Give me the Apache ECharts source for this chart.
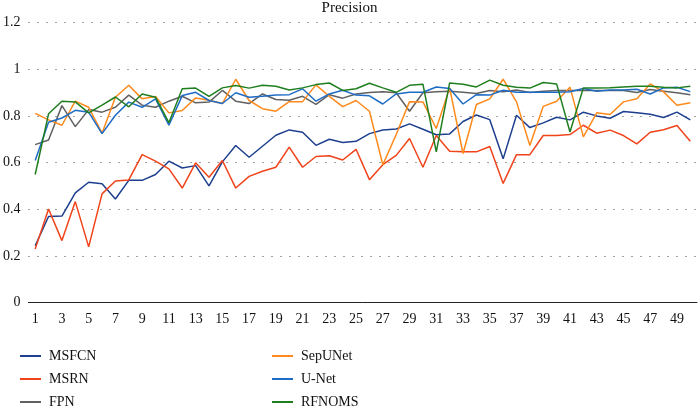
<!DOCTYPE html>
<html><head><meta charset="utf-8">
<script src="https://cdn.jsdelivr.net/npm/echarts@6/dist/echarts.min.js"></script>
<style>html,body{margin:0;padding:0;background:#fff}#c{width:699px;height:406px}</style>
</head><body><div id="c"></div>
<script>
const categories = Array.from({length: 50}, (_, i) => String(i + 1));
const yTicks = [0, 0.2, 0.4, 0.6, 0.8, 1, 1.2];
const MSFCN = [0.244,0.369,0.371,0.47,0.516,0.509,0.444,0.524,0.524,0.549,
  0.606,0.577,0.587,0.50,0.603,0.673,0.623,0.67,0.717,0.74,
  0.73,0.674,0.70,0.686,0.691,0.724,0.74,0.744,0.766,0.743,
  0.719,0.723,0.776,0.804,0.784,0.616,0.803,0.75,0.77,0.794,
  0.783,0.816,0.80,0.79,0.819,0.813,0.807,0.793,0.816,0.783];
const MSRN = [0.23,0.401,0.266,0.433,0.239,0.466,0.521,0.526,0.634,0.606,
  0.573,0.491,0.599,0.537,0.609,0.491,0.541,0.563,0.58,0.666,
  0.58,0.626,0.629,0.611,0.657,0.527,0.591,0.631,0.703,0.58,
  0.716,0.649,0.646,0.646,0.669,0.511,0.634,0.634,0.716,0.716,
  0.72,0.76,0.726,0.739,0.716,0.68,0.73,0.741,0.759,0.691];
const FPN = [0.677,0.697,0.844,0.754,0.827,0.816,0.837,0.889,0.846,0.837,
  0.863,0.884,0.856,0.859,0.909,0.863,0.853,0.894,0.87,0.867,
  0.884,0.849,0.891,0.876,0.894,0.9,0.903,0.899,0.82,0.899,
  0.903,0.906,0.901,0.896,0.909,0.903,0.911,0.9,0.906,0.909,
  0.909,0.909,0.909,0.909,0.909,0.9,0.913,0.906,0.899,0.891];
const SepUNet = [0.811,0.783,0.76,0.863,0.837,0.726,0.88,0.931,0.873,0.883,
  0.813,0.823,0.877,0.867,0.853,0.957,0.866,0.831,0.82,0.861,
  0.861,0.933,0.884,0.84,0.866,0.82,0.591,0.72,0.861,0.86,
  0.746,0.92,0.639,0.849,0.873,0.957,0.86,0.673,0.841,0.863,
  0.923,0.71,0.813,0.806,0.86,0.873,0.937,0.903,0.846,0.856];
const UNet = [0.609,0.773,0.791,0.824,0.816,0.724,0.803,0.859,0.837,0.873,
  0.76,0.887,0.901,0.866,0.853,0.899,0.88,0.884,0.889,0.891,
  0.916,0.863,0.894,0.91,0.889,0.886,0.851,0.894,0.901,0.901,
  0.924,0.917,0.851,0.891,0.889,0.91,0.901,0.901,0.901,0.901,
  0.903,0.917,0.906,0.911,0.911,0.914,0.894,0.92,0.923,0.904];
const RFNOMS = [0.549,0.809,0.863,0.86,0.813,0.846,0.881,0.839,0.894,0.88,
  0.771,0.916,0.919,0.884,0.92,0.93,0.919,0.931,0.927,0.911,
  0.92,0.934,0.941,0.909,0.916,0.94,0.92,0.901,0.931,0.936,
  0.646,0.941,0.936,0.924,0.953,0.931,0.923,0.919,0.943,0.937,
  0.731,0.92,0.92,0.921,0.924,0.927,0.927,0.923,0.92,0.927];

const seriesDefs = [
  ['MSFCN', MSFCN, '#1d3f8e'],
  ['MSRN', MSRN, '#f0431a'],
  ['FPN', FPN, '#616161'],
  ['SepUNet', SepUNet, '#ff8a1c'],
  ['U-Net', UNet, '#1f6cc4'],
  ['RFNOMS', RFNOMS, '#1f7f1f']
];
const font = '"Liberation Serif", "DejaVu Serif", serif';
const chart = echarts.init(document.getElementById('c'));
const legendCommon = {
  orient: 'vertical', icon: 'rect', itemWidth: 21, itemHeight: 2, itemGap: 7,
  height: 100, padding: 0,
  textStyle: {fontFamily: font, fontSize: 14, lineHeight: 16, color: '#111', padding: [0,0,0,3]}
};
chart.setOption({
  animation: false,
  title: {text: 'Precision', left: 'center', top: -4,
    textStyle: {fontFamily: font, fontSize: 15, fontWeight: 'normal', color: '#111'}},
  grid: {left: 27, right: 2, top: 22.5, bottom: 103.3, containLabel: false},
  legend: [
    Object.assign({}, legendCommon, {data: ['MSFCN','MSRN','FPN'], left: 20, top: 348}),
    Object.assign({}, legendCommon, {data: ['SepUNet','U-Net','RFNOMS'], left: 272, top: 348})
  ],
  xAxis: {
    type: 'category', data: categories, boundaryGap: true,
    axisLine: {lineStyle: {color: '#222', width: 1}},
    axisTick: {length: 5, interval: (i) => i % 2 === 1, lineStyle: {color: '#222'}},
    axisLabel: {interval: 1, margin: 10, fontFamily: font, fontSize: 14, color: '#111'}
  },
  yAxis: {
    type: 'value', min: 0, max: 1.2, interval: 0.2,
    axisLine: {show: false}, axisTick: {show: false},
    axisLabel: {margin: 8, fontFamily: font, fontSize: 14, color: '#111',
      formatter: (v) => { const t = yTicks.find(x => Math.abs(x - v) < 1e-6); return t === undefined ? '' : String(t); }},
    splitLine: {lineStyle: {color: '#444', type: [1, 8], width: 1}}
  },
  series: seriesDefs.map(([name, data, color]) => ({
    name, type: 'line', data, symbol: 'none', color,
    lineStyle: {width: 1.5, color}
  }))
});
</script></body></html>
